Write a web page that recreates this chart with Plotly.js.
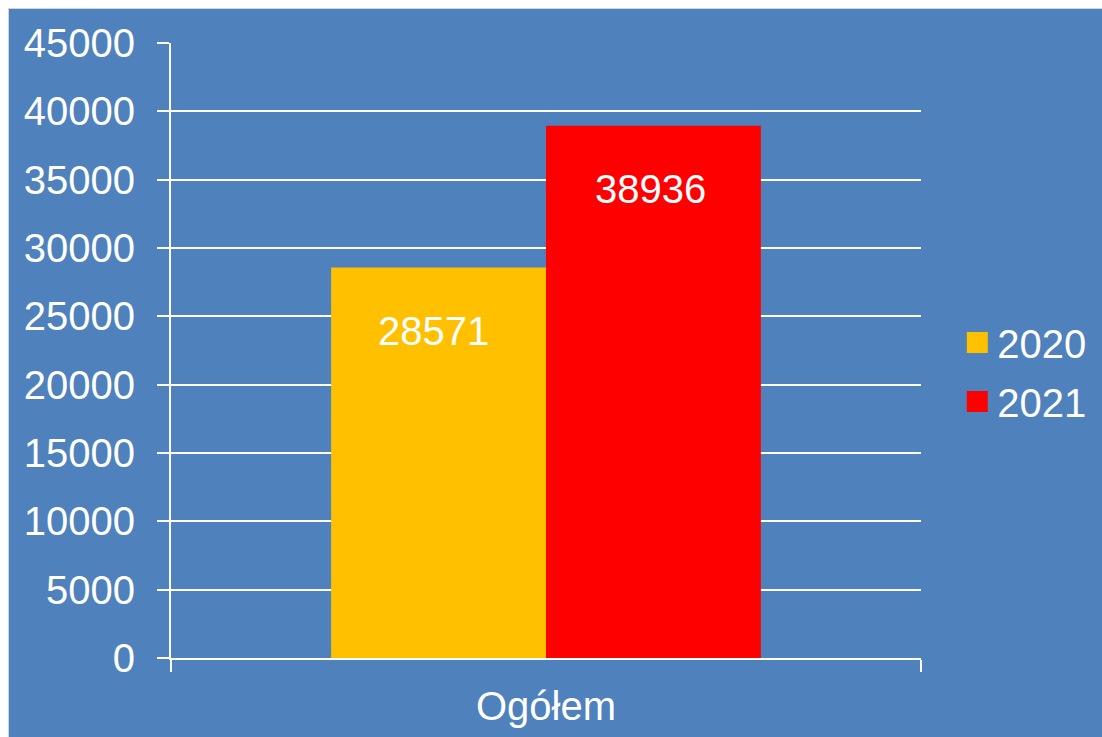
<!DOCTYPE html>
<html><head><meta charset="utf-8">
<script src="https://cdn.plot.ly/plotly-3.0.1.min.js"></script>
<style>
html,body{margin:0;padding:0;background:#fff;overflow:hidden;}
#wrap{position:absolute;left:8px;top:8px;border:1px solid #d4d4d4;width:1100px;height:735px;}
#chart{width:1093px;height:728px;}
</style></head>
<body><div id="wrap"><div id="chart"></div></div>
<script>
const categories = ["Ogółem"];
const seriesNames = ["2020", "2021"];
const values2020 = [28571];
const values2021 = [38936];
const seriesValues = [values2020, values2021];
const colors = ["#FFC000", "#FF0000"];
const bg = "#4F81BD";
const font = "Liberation Sans, Arial, sans-serif";

const traces = [];
seriesNames.forEach((n, i) => {
  traces.push({type: "bar", x: categories, y: seriesValues[i], name: n,
    marker: {color: colors[i]}, showlegend: false, hoverinfo: "none"});
});
seriesNames.forEach((n, i) => {
  traces.push({type: "scatter", mode: "markers", x: [null], y: [null], name: n,
    marker: {symbol: "square", size: 16, color: colors[i], line: {color: colors[i], width: 5}},
    legendgroup: "g" + i});
});

const annotations = [];
seriesNames.forEach((n, i) => {
  seriesValues[i].forEach((v, j) => {
    annotations.push({x: categories[j], y: v, xref: "x", yref: "y", text: String(v),
      showarrow: false, yanchor: "middle", yshift: -63, xshift: (i === 0 ? -113 : 104),
      font: {family: font, size: 40, color: "#fff"}});
  });
});

const layout = {
  width: 1093, height: 728,
  margin: {l: 162, r: 180, t: 34, b: 79},
  paper_bgcolor: bg, plot_bgcolor: bg,
  barmode: "group", bargap: 0.427, bargroupgap: 0,
  font: {family: font, color: "#fff", size: 40},
  xaxis: {type: "category", tickson: "boundaries", ticks: "outside", ticklen: 12,
    tickwidth: 2, tickcolor: "#fff", showline: true, linecolor: "#fff", linewidth: 2,
    showgrid: false, ticklabelstandoff: 12,
    tickfont: {family: font, size: 40, color: "#fff"}, fixedrange: true},
  yaxis: {range: [0, 45000], dtick: 5000, tick0: 0, tickformat: "d", ticks: "outside", ticklen: 12,
    tickwidth: 2, tickcolor: "#fff", showline: true, linecolor: "#fff", linewidth: 2,
    gridcolor: "#fff", gridwidth: 2, zeroline: false, ticklabelstandoff: 14,
    tickfont: {family: font, size: 40, color: "#fff"}, fixedrange: true},
  legend: {x: 1.047, y: 0.465, xanchor: "left", yanchor: "middle",
    font: {family: font, size: 40, color: "#fff"}, tracegroupgap: 4,
    bgcolor: "rgba(0,0,0,0)", itemwidth: 30},
  annotations: annotations,
  showlegend: true
};
Plotly.newPlot("chart", traces, layout, {displayModeBar: false, staticPlot: true});
</script></body></html>
